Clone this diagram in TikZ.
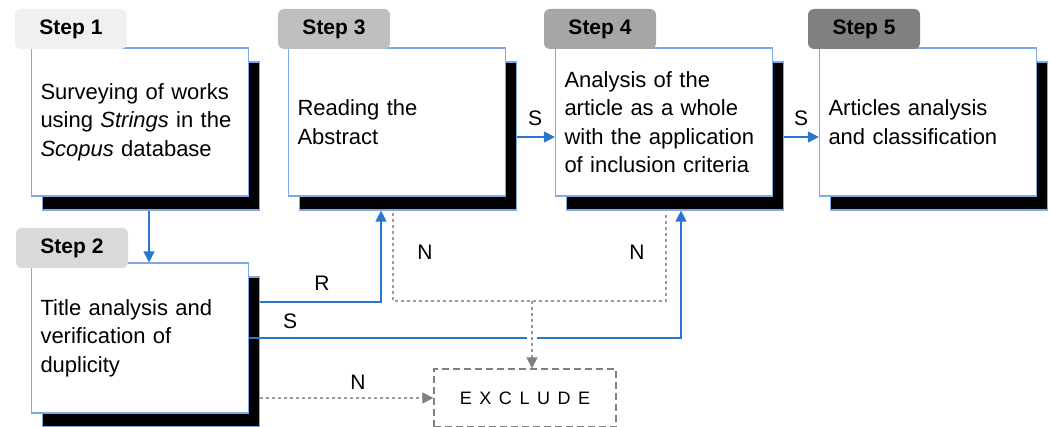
\documentclass[tikz,border=0pt]{standalone}
\usepackage{fontspec}
\setmainfont{Liberation Sans}
\usetikzlibrary{arrows.meta,shadows}
\definecolor{boxblue}{RGB}{125,170,228}
\definecolor{arrblue}{RGB}{40,118,205}
\definecolor{dgray}{RGB}{155,155,155}
\definecolor{agray}{RGB}{128,128,128}
\definecolor{tabA}{RGB}{240,240,240}
\definecolor{tabB}{RGB}{217,217,217}
\definecolor{tabC}{RGB}{191,191,191}
\definecolor{tabD}{RGB}{166,166,166}
\definecolor{tabE}{RGB}{128,128,128}
\tikzset{
  stepbox/.style={draw=boxblue, line width=1.2pt, fill=white,
    minimum width=217pt, minimum height=148pt, text width=199pt,
    inner xsep=9pt, inner ysep=0pt, align=left,
    font=\fontsize{22}{28.5}\selectfont,
    general shadow={fill=black, draw=boxblue, line width=1.2pt,
      shadow xshift=11pt, shadow yshift=-14pt}},
  steptab/.style={rounded corners=6pt, minimum width=112pt, minimum height=40pt,
    inner sep=0pt, font=\bfseries\fontsize{21}{21}\selectfont},
  lab/.style={font=\fontsize{21}{21}\selectfont, inner sep=0pt},
  arr/.style={draw=arrblue, line width=1.3pt, -{Triangle[width=11pt,length=11pt]}},
  darr/.style={draw=dgray, line width=1.2pt, dash pattern=on 3pt off 3pt,
    -{Triangle[width=11pt,length=11pt,fill=agray,color=agray]}},
  dline/.style={draw=dgray, line width=1.2pt, dash pattern=on 3pt off 3pt},
  exbox/.style={draw=agray, line width=1.3pt, dash pattern=on 7pt off 4pt,
    minimum width=182pt, minimum height=58pt, inner sep=0pt,
    font=\fontsize{18}{18}\selectfont\addfontfeature{LetterSpace=42}}
}
\begin{document}
\begin{tikzpicture}[x=1pt,y=-1pt]
\useasboundingbox (0,0) rectangle (1051,427);

% boxes
\node[stepbox] (s1) at (140,122) {Surveying of works\\using \textit{Strings} in the\\\textit{Scopus} database};
\node[stepbox] (s3) at (397,122) {Reading the\\Abstract};
\node[stepbox] (s4) at (664,122) {Analysis of the\\article as a whole\\with the application\\of inclusion criteria};
\node[stepbox] (s5) at (928,122) {Articles analysis\\and classification};
\node[stepbox, minimum height=150pt] (s2) at (140,338) {Title analysis and\\verification of\\duplicity};

% tabs
\node[steptab, fill=tabA] (t1) at (71,29) {Step 1};
\node[steptab, fill=tabC] (t3) at (334,29) {Step 3};
\node[steptab, fill=tabD] (t4) at (600,29) {Step 4};
\node[steptab, fill=tabE] (t5) at (864,29) {Step 5};
\node[steptab, fill=tabB] (t2) at (72,248) {Step 2};

% exclude box
\node[exbox] (ex) at (525,398) {EXCLUDE};

% blue connectors
\draw[arr] ([shift={(9pt,-14pt)}]s1.south) -- ([xshift=9pt]s2.north);
\draw[arr] ([shift={(11pt,36pt)}]s2.east) -| ([shift={(-16pt,-14pt)}]s3.south);
\draw[arr] (s2.east) -| ([shift={(17pt,-14pt)}]s4.south);
\draw[arr] ([shift={(11pt,-15pt)}]s3.east) -- ([yshift=-15pt]s4.west);
\draw[arr] ([shift={(11pt,-15pt)}]s4.east) -- ([yshift=-15pt]s5.west);

% dashed connectors
\coordinate (j) at (532,301);
\draw[dline] ([shift={(-4pt,-16pt)}]s3.south) |- (j) -| ([shift={(2pt,-16pt)}]s4.south);
\draw[white, line width=10pt, shorten <=26pt, shorten >=20pt] (j) -- (j |- ex.north);
\draw[darr] (j) -- (j |- ex.north);
\draw[darr] ([shift={(11pt,-60pt)}]s2.east) -- (ex.west);

% labels
\node[lab] (lr) at (322,283) {R};
\node[lab] (ls1) at (290,321) {S};
\node[lab] (ls2) at (535,118) {S};
\node[lab] (ls3) at (801,118) {S};
\node[lab] (ln1) at (425,252) {N};
\node[lab] (ln2) at (637,252) {N};
\node[lab] (ln3) at (358,382) {N};
\end{tikzpicture}
\end{document}
